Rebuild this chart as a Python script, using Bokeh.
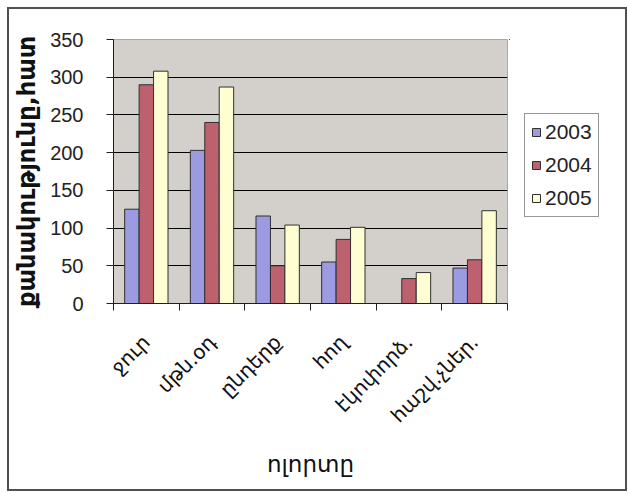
import math
import numpy as np
from bokeh.plotting import figure
from bokeh.layouts import row
from bokeh.models import (ColumnDataSource, Range1d, FixedTicker, Legend, LegendItem)
from bokeh.transform import dodge
from bokeh.embed import file_html
from bokeh.resources import INLINE

# ---- data ----
categories = ["ջուր", "մթն.օդ", "ընդերք", "հող", "էկոփորձ.", "հաշվ.չներ."]
years = ["2003", "2004", "2005"]
y2003 = [125, 203, 116, 55, 0, 47]
y2004 = [290, 240, 50, 85, 33, 58]
y2005 = [308, 287, 104, 101, 41, 123]
y_ticks = [0, 50, 100, 150, 200, 250, 300, 350]
y_title = "քանակությունը,հատ"
x_title = "ոլորտը"

colors = ["#9c9ae0", "#bd616e", "#fffdd2"]
keys = ["y2003", "y2004", "y2005"]

xpos = [i + 0.5 for i in range(len(categories))]
source = ColumnDataSource(dict(x=xpos, y2003=y2003, y2004=y2004, y2005=y2005))

TOP, BOTTOM = 30, 186

p = figure(width=500, height=480, output_backend="svg", toolbar_location=None,
           x_range=Range1d(0, len(categories)), y_range=Range1d(0, 350),
           min_border_left=104, min_border_top=TOP, min_border_right=2,
           min_border_bottom=BOTTOM)

p.background_fill_color = "#d3d0cc"
p.border_fill_color = "white"
p.outline_line_color = "#a8a8a8"
p.outline_line_width = 1

bw = 0.22
for off, key, col in zip([-bw, 0, bw], keys, colors):
    p.vbar(x=dodge("x", off, range=p.x_range), top=key, width=bw, source=source,
           fill_color=col, line_color="#303030", line_width=1)

# grid
p.xgrid.grid_line_color = None
p.ygrid.grid_line_color = "black"
p.ygrid.grid_line_width = 1
p.yaxis.ticker = FixedTicker(ticks=y_ticks)

# x axis: labels at centers, ticks at boundaries (minor)
p.xaxis.ticker = FixedTicker(ticks=xpos, minor_ticks=list(range(len(categories) + 1)))
p.xaxis.major_label_overrides = {x: c for x, c in zip(xpos, categories)}
p.xaxis.major_tick_line_color = None
p.xaxis.minor_tick_line_color = "#202020"
p.xaxis.minor_tick_out = 7
p.xaxis.minor_tick_in = 0
p.xaxis.major_label_orientation = math.pi / 4
p.xaxis.major_label_text_font = "DejaVu Sans"
p.xaxis.major_label_text_font_size = "20px"
p.xaxis.major_label_text_color = "#111111"
p.xaxis.major_label_standoff = 28
p.xaxis.axis_line_color = "#202020"
p.xaxis.axis_label = x_title
p.xaxis.axis_label_text_font = "DejaVu Sans"
p.xaxis.axis_label_text_font_size = "23px"
p.xaxis.axis_label_text_font_style = "normal"
p.xaxis.axis_label_text_color = "#111111"
p.xaxis.axis_label_standoff = 12

# y axis
p.yaxis.axis_line_color = "#202020"
p.yaxis.major_tick_line_color = "#202020"
p.yaxis.major_tick_out = 7
p.yaxis.major_tick_in = 0
p.yaxis.minor_tick_line_color = None
p.yaxis.major_label_text_font = "Liberation Sans"
p.yaxis.major_label_text_font_size = "20px"
p.yaxis.major_label_text_color = "#222222"
p.yaxis.major_label_standoff = 23
p.yaxis.axis_label = y_title
p.yaxis.axis_label_text_font = "DejaVu Sans"
p.yaxis.axis_label_text_font_size = "24px"
p.yaxis.axis_label_text_font_style = "bold"
p.yaxis.axis_label_text_color = "#111111"
p.yaxis.axis_label_standoff = 6

# legend panel (separate small figure to the right; its bars lie outside its view)
q = figure(width=116, height=480, output_backend="svg", toolbar_location=None,
           min_border_left=0, min_border_top=TOP, min_border_right=0,
           min_border_bottom=BOTTOM, x_axis_type=None, y_axis_type=None,
           x_range=Range1d(100, 101), y_range=Range1d(-200, -100))
q.outline_line_color = None
q.background_fill_color = "white"
q.border_fill_color = "white"
q.grid.visible = False
leg_rs = []
for key, col in zip(keys, colors):
    leg_rs.append(q.vbar(x="x", top=key, width=0.1, source=source,
                         fill_color=col, line_color="#303030", line_width=1))

legend = Legend(items=[LegendItem(label=y, renderers=[r], index=0) for y, r in zip(years, leg_rs)],
                location=(15, 86), margin=0, padding=6, spacing=9,
                glyph_width=10, glyph_height=10, label_height=20,
                label_standoff=4,
                label_text_font="Liberation Sans", label_text_font_size="21px",
                label_text_color="#222222",
                border_line_color="#303030", border_line_width=1,
                background_fill_color="white", background_fill_alpha=1)
q.add_layout(legend)

layout = row(p, q, spacing=0)
layout.styles = {"border": "2px solid #505050", "margin": "7px 0 0 7px"}

open("out.html", "w").write(file_html(layout, INLINE))
